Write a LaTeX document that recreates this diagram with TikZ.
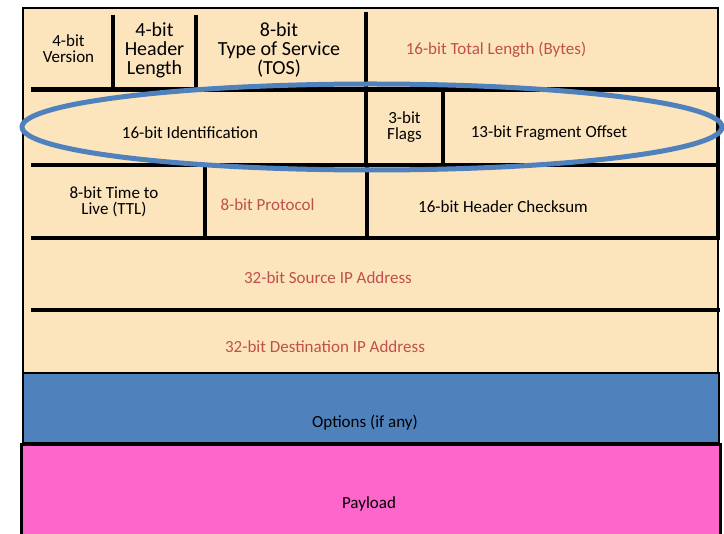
\documentclass[tikz,border=0pt]{standalone}
\usepackage{fontspec}
\setmainfont{Carlito}
\usetikzlibrary{positioning}
\definecolor{hdrbeige}{HTML}{FCE4BD}
\definecolor{hdrred}{HTML}{C0504D}
\definecolor{hdrblue}{HTML}{4F81BD}
\definecolor{hdrpink}{HTML}{FF66CC}
\tikzset{
  field/.style={align=center, inner sep=0pt, yshift=-1.5pt, font=\fontsize{17}{16}\selectfont},
  bigfield/.style={align=center, inner sep=0pt, yshift=-1pt, font=\fontsize{20}{19}\selectfont},
  redfield/.style={field, text=hdrred},
  divider/.style={line width=4.5pt},
  frame/.style={line width=1.5pt}
}

\begin{document}
\begin{tikzpicture}[x=1pt,y=-1pt]
  \useasboundingbox (0,0) rectangle (724,534);
  % header block
  \fill[hdrbeige] (23,8) rectangle (718,373);
  \draw[frame] (23,8) rectangle (718,373);
  % options and payload
  \filldraw[fill=hdrblue, frame] (23,373) rectangle (719,443);
  \fill[hdrpink] (21,445) rectangle (720,534);
  \draw[line width=3pt] (21,534) -- (21,445) -- (720,445) -- (720,534);
  % row separators
  \foreach \y in {89.5,165,238,310}
    \draw[divider] (31,\y) -- (720,\y);
  \draw[divider] (718,89.5) -- (718,238);
  % field separators
  \draw[divider] (113,15) -- (113,89.5);
  \draw[divider] (196,15) -- (196,89.5);
  \draw[divider] (366,12) -- (366,165);
  \draw[divider] (443,92) -- (443,165);
  \draw[divider] (205,165) -- (205,238);
  \draw[divider] (367,165) -- (367,238);

  % row 1
  \node[field] (ver) at (68.5,47) {4-bit\\Version};
  \node[bigfield] (ihl) at (154.5,49) {4-bit\\Header\\Length};
  \node[bigfield] (tos) at (279,49) {8-bit\\Type of Service\\(TOS)};
  \node[redfield] (len) at (496,48) {16-bit Total Length (Bytes)};
  % row 2
  \node[field] (ident) at (190,131) {16-bit Identification};
  \node[field] (flags) at (404.5,126) {3-bit\\Flags};
  \node[field] (frag) at (549,132) {13-bit Fragment Offset};
  % row 3
  \node[field] (ttl) at (114,200) {8-bit Time to\\Live (TTL)};
  \node[redfield] (proto) at (267.5,203) {8-bit Protocol};
  \node[field] (csum) at (503,205) {16-bit Header Checksum};
  % rows 4 and 5
  \node[redfield] (src) at (328,276) {32-bit Source IP Address};
  \node[redfield] (dst) at (325,345) {32-bit Destination IP Address};
  % options and payload
  \node[field] (opts) at (365,421) {Options (if any)};
  \node[field] (load) at (369,502) {Payload};

  % highlight round the fragmentation fields
  \draw[hdrblue, line width=5pt] (372,127) ellipse [x radius=350, y radius=43];
\end{tikzpicture}
\end{document}
